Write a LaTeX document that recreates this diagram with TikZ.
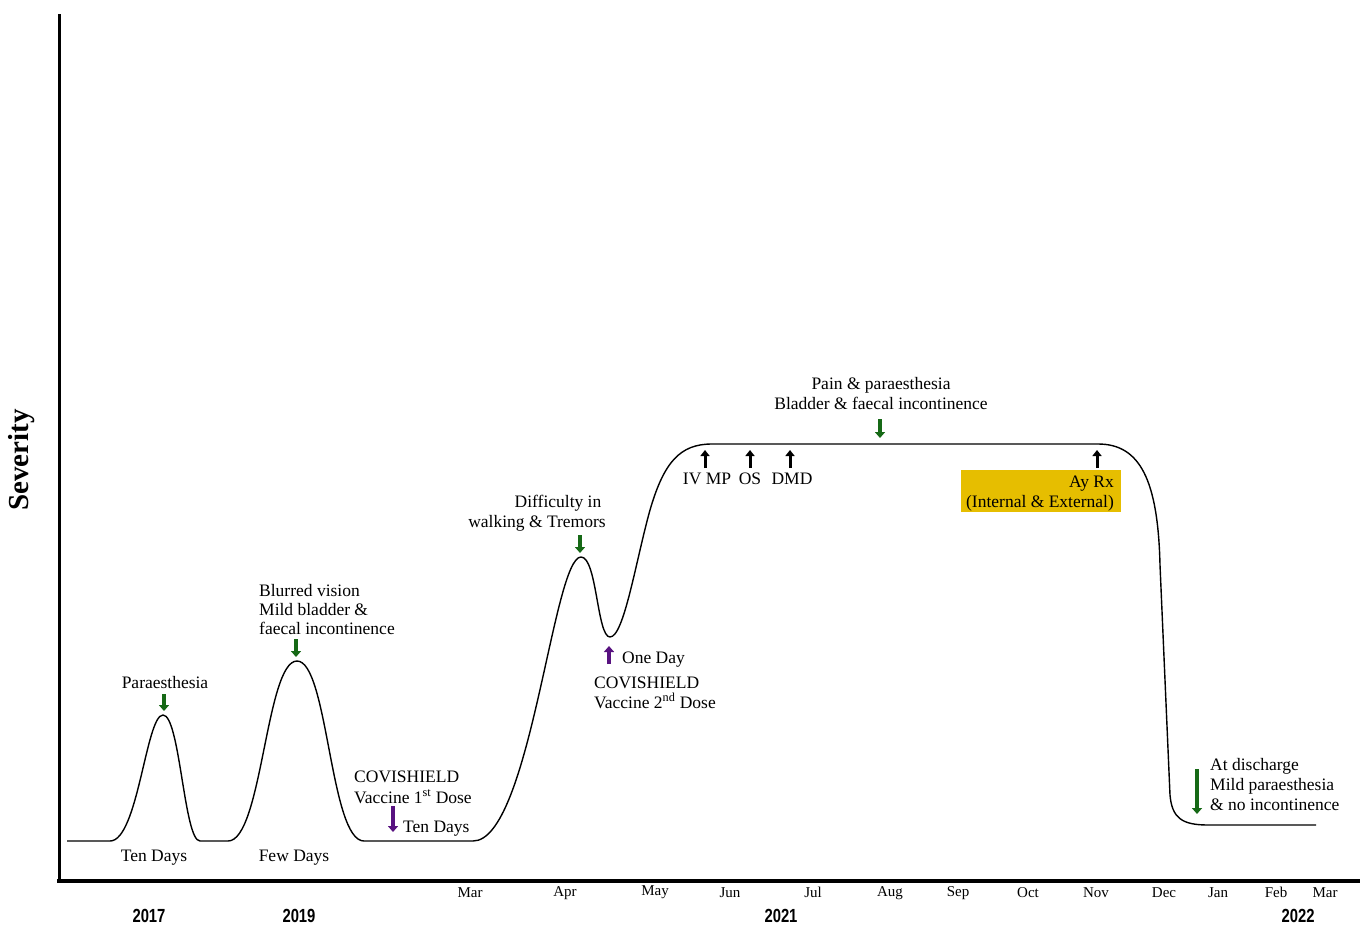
\documentclass[tikz,border=0pt]{standalone}
\usepackage{fontspec}
\setmainfont{Liberation Serif}
\newfontfamily\yearfont[FakeStretch=0.78]{Liberation Sans}
\usetikzlibrary{arrows.meta}
\definecolor{mkgreen}{RGB}{22,105,22}
\definecolor{mkpurple}{RGB}{88,18,128}
\definecolor{boxyellow}{RGB}{230,190,0}
\begin{document}
\begin{tikzpicture}[x=1pt,y=-1pt,
  lbl/.style={font=\fontsize{17.5}{20}\selectfont,inner sep=0pt},
  mon/.style={font=\fontsize{15}{17}\selectfont,inner sep=0pt,anchor=base},
  yr/.style={font=\yearfont\bfseries\fontsize{19}{21}\selectfont,inner sep=0pt,anchor=base},
  gmark/.style={draw=mkgreen,line width=3.5pt,-{Triangle[width=10pt,length=6pt]},mkgreen},
  pmark/.style={draw=mkpurple,line width=3.5pt,-{Triangle[width=10pt,length=6pt]},mkpurple},
  kmark/.style={draw=black,line width=3pt,-{Triangle[width=9pt,length=6pt]}},
  curve/.style={draw=black,line width=1.4pt,line join=round}]
\useasboundingbox[fill=white] (0,0) rectangle (1360,924);

% axes
\draw[line width=3pt] (59,14) -- (59,883);
\draw[line width=4.5pt] (57,881) -- (1360,881);
\node[font=\bfseries\fontsize{29}{32}\selectfont,rotate=90,inner sep=0pt] (sev) at (22,460) {Severity};

% curve
\draw[curve] (67,841) -- (110,841)
  .. controls (138,841) and (146,715) .. (163,715)
  .. controls (180,715) and (184,841) .. (200,841)
  -- (228,841)
  .. controls (262,841) and (266,661) .. (297,661)
  .. controls (328,661) and (330,841) .. (364,841)
  -- (473,841)
  .. controls (530,841) and (553,557) .. (581,557)
  .. controls (597,557) and (597,637) .. (610,637)
  .. controls (624,637) and (636,560) .. (650,510)
  .. controls (664,462) and (680,444) .. (712,444)
  -- (1098,444)
  .. controls (1140,444) and (1158,480) .. (1160,565)
  -- (1170,795)
  .. controls (1172,818) and (1182,825) .. (1208,825)
  -- (1316,825);

% peak 1
\node[lbl,anchor=base] (p1) at (165,688) {Paraesthesia};
\draw[gmark] (164,694) -- (164,711);
\node[lbl,anchor=base] (td1) at (154,861) {Ten Days};

% peak 2
\node[lbl,anchor=base west] (b1) at (259,596) {Blurred vision};
\node[lbl,anchor=base west] (b2) at (259,615) {Mild bladder \&};
\node[lbl,anchor=base west] (b3) at (259,634) {faecal incontinence};
\draw[gmark] (296,639) -- (296,657);
\node[lbl,anchor=base] (fd) at (294,861) {Few Days};

% vaccine 1
\node[lbl,anchor=base west] (v1a) at (354,782) {COVISHIELD};
\node[lbl,anchor=base west] (v1b) at (354,803) {Vaccine 1\textsuperscript{st} Dose};
\draw[pmark] (393,806) -- (393,832);
\node[lbl,anchor=base west] (td2) at (403,832) {Ten Days};

% peak 3
\node[lbl,anchor=base] (d1) at (558,507) {Difficulty in};
\node[lbl,anchor=base] (d2) at (537,527) {walking \& Tremors};
\draw[gmark] (580,535) -- (580,553);

% vaccine 2
\draw[pmark] (609,664) -- (609,646);
\node[lbl,anchor=base west] (od) at (622,663) {One Day};
\node[lbl,anchor=base west] (v2a) at (594,688) {COVISHIELD};
\node[lbl,anchor=base west] (v2b) at (594,708) {Vaccine 2\textsuperscript{nd} Dose};

% plateau
\node[lbl,anchor=base] (pp1) at (881,389) {Pain \& paraesthesia};
\node[lbl,anchor=base] (pp2) at (881,409) {Bladder \& faecal incontinence};
\draw[gmark] (880,419) -- (880,438);

\draw[kmark] (705,468) -- (705,450);
\draw[kmark] (750,468) -- (750,450);
\draw[kmark] (790,468) -- (790,450);
\node[lbl,anchor=base] (iv) at (707,484) {IV MP};
\node[lbl,anchor=base] (os) at (750,484) {OS};
\node[lbl,anchor=base] (dmd) at (792,484) {DMD};

\fill[boxyellow] (961,470) rectangle (1121,512);
\node[lbl,anchor=base east] (ay) at (1114,487) {Ay Rx};
\node[lbl,anchor=base] (ie) at (1040,507) {(Internal \& External)};
\draw[kmark] (1097,468) -- (1097,450);

% discharge
\draw[gmark] (1197,769) -- (1197,814);
\node[lbl,anchor=base west] (a1) at (1210,770) {At discharge};
\node[lbl,anchor=base west] (a2) at (1210,790) {Mild paraesthesia};
\node[lbl,anchor=base west] (a3) at (1210,810) {\& no incontinence};

% months
\node[mon] (m3) at (470,897) {Mar};
\node[mon] (m4) at (565,896) {Apr};
\node[mon] (m5) at (655,895) {May};
\node[mon] (m6) at (730,897) {Jun};
\node[mon] (m7) at (813,897) {Jul};
\node[mon] (m8) at (890,896) {Aug};
\node[mon] (m9) at (958,896) {Sep};
\node[mon] (m10) at (1028,897) {Oct};
\node[mon] (m11) at (1096,897) {Nov};
\node[mon] (m12) at (1164,897) {Dec};
\node[mon] (m13) at (1218,897) {Jan};
\node[mon] (m14) at (1276,897) {Feb};
\node[mon] (m15) at (1325,897) {Mar};

% years
\node[yr] (y17) at (149,922) {2017};
\node[yr] (y19) at (299,922) {2019};
\node[yr] (y21) at (781,922) {2021};
\node[yr] (y22) at (1298,922) {2022};
\end{tikzpicture}
\end{document}
